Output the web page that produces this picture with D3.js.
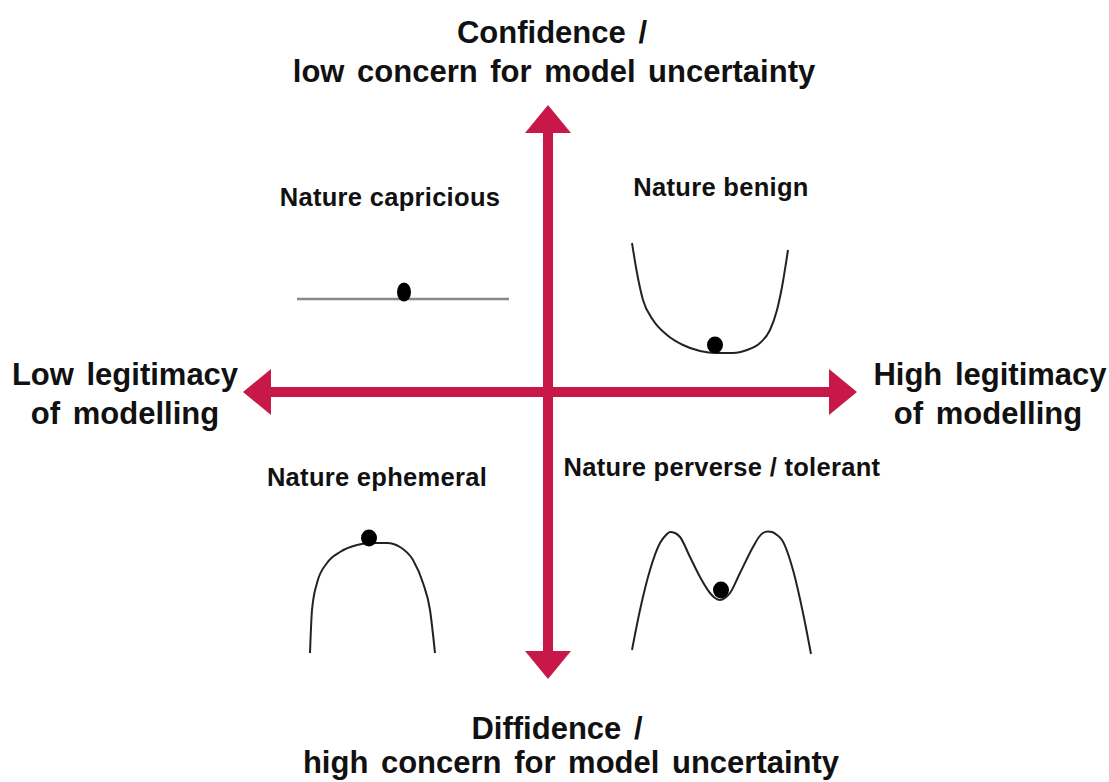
<!DOCTYPE html>
<html>
<head>
<meta charset="utf-8">
<script src="https://cdn.jsdelivr.net/npm/d3@7"></script>
<style>
  html, body { margin: 0; padding: 0; background: #fff; }
  svg { display: block; }
  text { font-family: 'Liberation Sans', Arial, sans-serif; font-weight: bold; fill: #111; }
</style>
</head>
<body>
<div id="contents"></div>
<script>
// axis end labels
var topLabel    = ['Confidence /', 'low concern for model uncertainty'];
var bottomLabel = ['Diffidence /', 'high concern for model uncertainty'];
var leftLabel   = ['Low legitimacy', 'of modelling'];
var rightLabel  = ['High legitimacy', 'of modelling'];

// quadrant titles
var quadrants = ['Nature capricious', 'Nature benign', 'Nature ephemeral', 'Nature perverse / tolerant'];

// curve shapes, local units: [x from left end, height above base]
var capriciousCurve = [[0, 0], [212, 0]];
var benignCurve     = [[0, 111], [5, 81], [11, 54], [21, 34], [35, 19], [51, 9], [68, 3], [85, 1],
                       [101, 1], [115, 4], [128, 11], [138, 24], [145, 44], [150, 67], [156, 104]];
var ephemeralCurve  = [[0, 0], [2, 43], [7, 70], [17, 90], [30, 101], [47, 108], [60, 110],
                       [77, 110], [90, 106], [103, 93], [113, 70], [120, 43], [125, 0]];
var perverseCurve   = [[0, 4], [8, 44], [18, 84], [28, 111], [34, 119], [38, 122], [43, 121],
                       [48, 117], [58, 97], [68, 77], [78, 61], [83, 56], [88, 54], [93, 56],
                       [98, 61], [108, 81], [121, 107], [127, 117], [131, 121], [136, 122.5],
                       [140, 122], [145, 119], [150, 114], [161, 84], [171, 41], [179, 0]];

// ball positions on each curve, same units
var balls = [[107, 7], [83, 9], [59, 115], [89, 64]];

window.onload = function(){
    'use strict';
    var width   = 1109;
    var height  = 782;
    var RED     = '#c8184a';
    var SHAFT   = 10;
    var HEAD_L  = 28;
    var HEAD_W  = 23;
    var AXIS_X  = 548;
    var AXIS_Y  = 392;

    var svg = d3.select('#contents').append('svg')
        .attr('width', width)
        .attr('height', height);

    // main cross
    var ax = d3.scaleLinear().domain([-1, 1]).range([243, 857]);
    var ay = d3.scaleLinear().domain([-1, 1]).range([679, 105]);

    var arrows = svg.append('g');
    arrows.append('line')
        .attr('x1', ax(-1) + HEAD_L - 2).attr('x2', ax(1) - HEAD_L + 2)
        .attr('y1', AXIS_Y).attr('y2', AXIS_Y)
        .attr('stroke', RED).attr('stroke-width', SHAFT);
    arrows.append('line')
        .attr('x1', AXIS_X).attr('x2', AXIS_X)
        .attr('y1', ay(1) + HEAD_L - 2).attr('y2', ay(-1) - HEAD_L + 2)
        .attr('stroke', RED).attr('stroke-width', SHAFT);

    var heads = [
        [[AXIS_X, ay(1)], [AXIS_X - HEAD_W, ay(1) + HEAD_L], [AXIS_X + HEAD_W, ay(1) + HEAD_L]],
        [[AXIS_X, ay(-1)], [AXIS_X - HEAD_W, ay(-1) - HEAD_L], [AXIS_X + HEAD_W, ay(-1) - HEAD_L]],
        [[ax(-1), AXIS_Y], [ax(-1) + HEAD_L, AXIS_Y - HEAD_W], [ax(-1) + HEAD_L, AXIS_Y + HEAD_W]],
        [[ax(1), AXIS_Y], [ax(1) - HEAD_L, AXIS_Y - HEAD_W], [ax(1) - HEAD_L, AXIS_Y + HEAD_W]]
    ];
    arrows.selectAll('polygon')
        .data(heads)
        .enter()
        .append('polygon')
        .attr('points', function(d){ return d.map(function(p){ return p.join(','); }).join(' '); })
        .attr('fill', RED);

    // axis labels
    function twoLines(lines, x1, x2, y1, y2, size) {
        var g = svg.append('g');
        g.append('text').attr('x', x1).attr('y', y1)
            .attr('text-anchor', 'middle').attr('font-size', size)
            .attr('word-spacing', 4)
            .text(lines[0]);
        g.append('text').attr('x', x2).attr('y', y2)
            .attr('text-anchor', 'middle').attr('font-size', size)
            .attr('word-spacing', 4)
            .text(lines[1]);
    }
    twoLines(topLabel, 552, 554, 43, 82, 31);
    twoLines(bottomLabel, 557, 571, 739, 773, 31);
    twoLines(leftLabel, 125, 125, 385, 424, 31);
    twoLines(rightLabel, 990, 988, 385, 424, 31);

    // quadrant panels: left end, base line, title position
    var panels = [
        {curve: capriciousCurve, x0: 297, base: 299, tx: 390, ty: 206, stroke: '#888', sw: 2.5},
        {curve: benignCurve,     x0: 632, base: 354, tx: 721, ty: 196, stroke: '#222', sw: 2},
        {curve: ephemeralCurve,  x0: 310, base: 653, tx: 377, ty: 486, stroke: '#222', sw: 2},
        {curve: perverseCurve,   x0: 632, base: 654, tx: 722, ty: 476, stroke: '#222', sw: 2}
    ];

    panels.forEach(function(p, i) {
        var maxX = d3.max(p.curve, function(d){ return d[0]; });
        var x = d3.scaleLinear().domain([0, maxX]).range([p.x0, p.x0 + maxX]);
        var y = d3.scaleLinear().domain([0, 100]).range([p.base, p.base - 100]);
        var line = d3.line()
            .x(function(d){ return x(d[0]); })
            .y(function(d){ return y(d[1]); })
            .curve(d3.curveMonotoneX);

        var g = svg.append('g');
        g.append('path')
            .datum(p.curve)
            .attr('d', line)
            .attr('fill', 'none')
            .attr('stroke', p.stroke)
            .attr('stroke-width', p.sw);
        g.append('ellipse')
            .attr('cx', x(balls[i][0]))
            .attr('cy', y(balls[i][1]))
            .attr('rx', i === 0 ? 7 : 8)
            .attr('ry', i === 0 ? 9.5 : 8.5)
            .attr('fill', '#000');
        g.append('text')
            .attr('x', p.tx).attr('y', p.ty)
            .attr('text-anchor', 'middle')
            .attr('font-size', 25.5)
            .attr('letter-spacing', 0.3)
            .text(quadrants[i]);
    });
};
</script>
</body>
</html>
